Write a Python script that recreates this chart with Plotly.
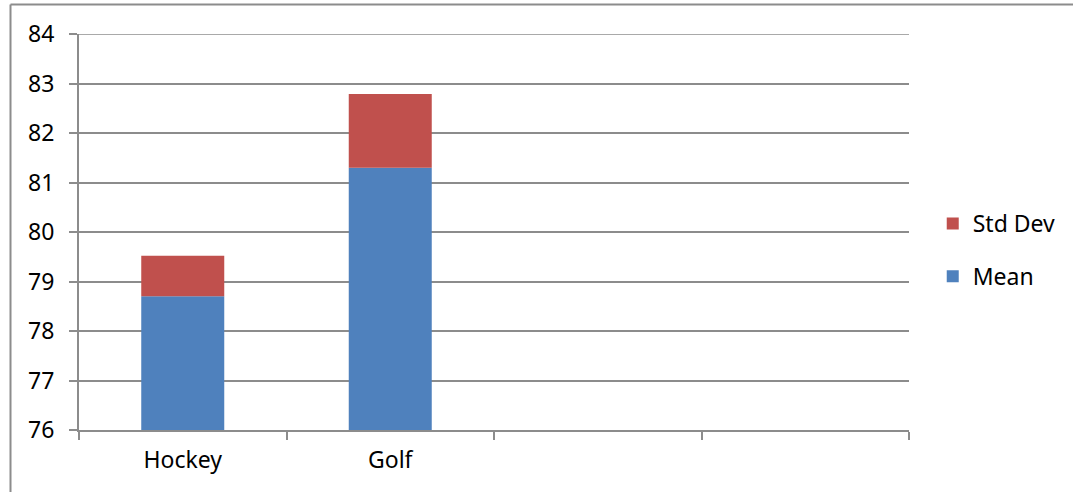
import plotly.graph_objects as go

categories = ["Hockey", "Golf"]
mean_vals = [78.70, 81.30]
std_vals = [0.82, 1.49]
y_ticks = [76, 77, 78, 79, 80, 81, 82, 83, 84]

BLUE = "#4F81BD"
RED = "#C0504D"
GRID = "#8c8c8c"
FONT = "Noto Sans"

x_pos = list(range(len(categories)))

fig = go.Figure()
fig.add_trace(go.Bar(x=x_pos, y=[m - 76 for m in mean_vals], base=76, name="Mean",
                     marker=dict(color=BLUE, line=dict(width=0)), width=0.4,
                     legendgroup="a", legendrank=2))
fig.add_trace(go.Bar(x=x_pos, y=std_vals,
                     base=mean_vals, name="Std Dev",
                     marker=dict(color=RED, line=dict(width=0)), width=0.4,
                     legendgroup="b", legendrank=1))

W, H = 1073, 492
L, R, T, B = 79, 909, 34, 430
fig.update_layout(
    width=W, height=H,
    margin=dict(l=L, r=W - R, t=T, b=H - B),
    paper_bgcolor="white", plot_bgcolor="white",
    font=dict(family=FONT, size=23, color="#000000"),
    barmode="overlay",
    showlegend=True,
    legend=dict(x=(951 - 79) / 830 - 0.022, y=(430 - 250) / 396, xanchor="left", yanchor="middle",
                traceorder="grouped", tracegroupgap=20,
                font=dict(family=FONT, size=23), bgcolor="rgba(0,0,0,0)"),
    xaxis=dict(range=[-0.5, 3.5], tickmode="array", tickvals=x_pos, ticktext=categories,
               showgrid=False, zeroline=False, ticks="",
               showline=True, linecolor=GRID, linewidth=2,
               minor=dict(tickmode="array", tickvals=[-0.5, 0.5, 1.5, 2.5, 3.5],
                          ticks="outside", ticklen=8, tickcolor=GRID, tickwidth=2, showgrid=False),
               ticklabelstandoff=8),
    yaxis=dict(range=[y_ticks[0], y_ticks[-1]], tickmode="array", tickvals=y_ticks,
               showgrid=True, gridcolor=GRID, gridwidth=1.5, zeroline=False,
               showline=True, linecolor=GRID, linewidth=2,
               ticks="outside", ticklen=8, tickcolor=GRID, tickwidth=1.5,
               ticklabelstandoff=10),
)

# top gridline (plotly omits the grid line at the range edge)
fig.add_shape(type="line", xref="paper", yref="y", x0=0, x1=1, y0=y_ticks[-1], y1=y_ticks[-1],
              line=dict(color=GRID, width=1.5), layer="below")

# outer chart frame (top and left visible)
x0 = (10.5 - L) / (R - L)
x1 = (W - L) / (R - L)
y_top = (B - 4.5) / (B - T)
y_bot = (B - H) / (B - T)
fig.add_shape(type="line", xref="paper", yref="paper", x0=x0, x1=x1, y0=y_top, y1=y_top,
              line=dict(color="#8c8c8c", width=2))
fig.add_shape(type="line", xref="paper", yref="paper", x0=x0, x1=x0, y0=y_top, y1=y_bot,
              line=dict(color="#8c8c8c", width=2))

fig.write_html("out.html")
